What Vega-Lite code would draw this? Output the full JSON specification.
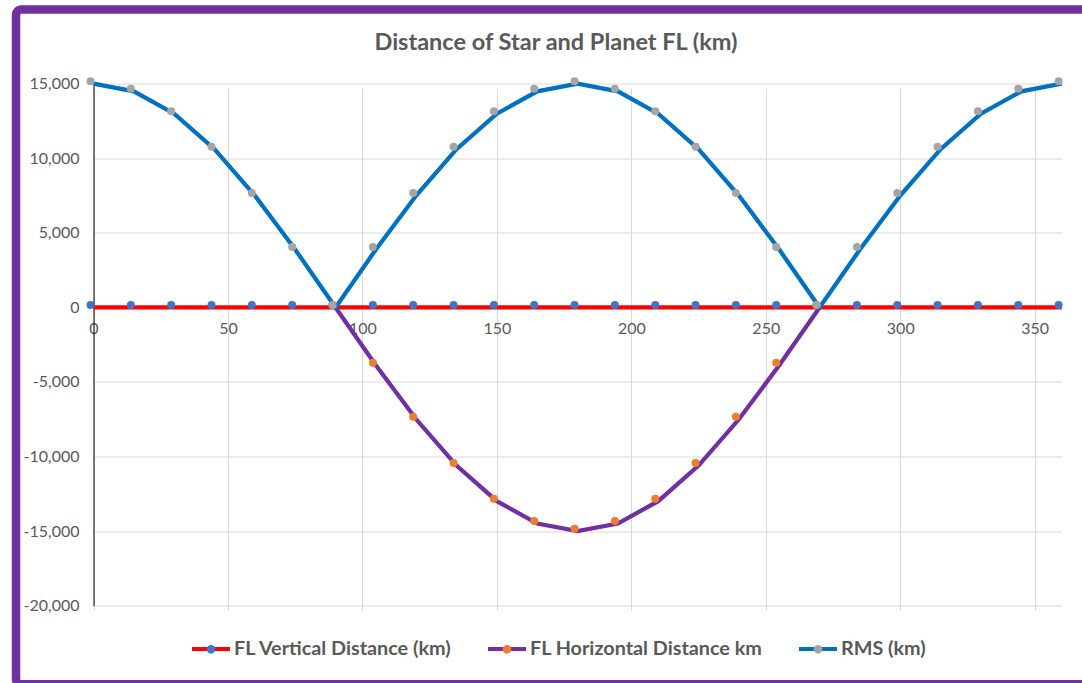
{
  "$schema": "https://vega.github.io/schema/vega-lite/v6.json",
  "width": 1080,
  "height": 674.75,
  "autosize": {"type": "none"},
  "padding": {"left": 16, "top": 9.5, "right": -14, "bottom": -1.25},
  "background": "white",
  "title": {
    "text": "Distance of Star and Planet FL (km)",
    "anchor": "middle",
    "frame": "group",
    "offset": -44.5,
    "font": "Lato",
    "fontSize": 23.5,
    "fontWeight": "bold",
    "color": "#595959"
  },
  "config": {
    "view": {"stroke": "#7030A0", "strokeWidth": 8.5, "fill": "white", "cornerRadius": 5},
    "axis": {
      "labelFont": "Lato",
      "labelFontSize": 16,
      "labelColor": "#595959",
      "ticks": false,
      "tickSize": 0,
      "gridColor": "#D9D9D9",
      "gridWidth": 1,
      "title": null,
      "labelFlush": false,
      "labelOverlap": false
    }
  },
  "data": {
    "values": [
      {"deg": 0, "series": "FL Vertical Distance (km)", "value": 0},
      {"deg": 15, "series": "FL Vertical Distance (km)", "value": 0},
      {"deg": 30, "series": "FL Vertical Distance (km)", "value": 0},
      {"deg": 45, "series": "FL Vertical Distance (km)", "value": 0},
      {"deg": 60, "series": "FL Vertical Distance (km)", "value": 0},
      {"deg": 75, "series": "FL Vertical Distance (km)", "value": 0},
      {"deg": 90, "series": "FL Vertical Distance (km)", "value": 0},
      {"deg": 105, "series": "FL Vertical Distance (km)", "value": 0},
      {"deg": 120, "series": "FL Vertical Distance (km)", "value": 0},
      {"deg": 135, "series": "FL Vertical Distance (km)", "value": 0},
      {"deg": 150, "series": "FL Vertical Distance (km)", "value": 0},
      {"deg": 165, "series": "FL Vertical Distance (km)", "value": 0},
      {"deg": 180, "series": "FL Vertical Distance (km)", "value": 0},
      {"deg": 195, "series": "FL Vertical Distance (km)", "value": 0},
      {"deg": 210, "series": "FL Vertical Distance (km)", "value": 0},
      {"deg": 225, "series": "FL Vertical Distance (km)", "value": 0},
      {"deg": 240, "series": "FL Vertical Distance (km)", "value": 0},
      {"deg": 255, "series": "FL Vertical Distance (km)", "value": 0},
      {"deg": 270, "series": "FL Vertical Distance (km)", "value": 0},
      {"deg": 285, "series": "FL Vertical Distance (km)", "value": 0},
      {"deg": 300, "series": "FL Vertical Distance (km)", "value": 0},
      {"deg": 315, "series": "FL Vertical Distance (km)", "value": 0},
      {"deg": 330, "series": "FL Vertical Distance (km)", "value": 0},
      {"deg": 345, "series": "FL Vertical Distance (km)", "value": 0},
      {"deg": 360, "series": "FL Vertical Distance (km)", "value": 0},
      {"deg": 90, "series": "FL Horizontal Distance km", "value": 0},
      {"deg": 105, "series": "FL Horizontal Distance km", "value": -3882},
      {"deg": 120, "series": "FL Horizontal Distance km", "value": -7500},
      {"deg": 135, "series": "FL Horizontal Distance km", "value": -10607},
      {"deg": 150, "series": "FL Horizontal Distance km", "value": -12990},
      {"deg": 165, "series": "FL Horizontal Distance km", "value": -14489},
      {"deg": 180, "series": "FL Horizontal Distance km", "value": -15000},
      {"deg": 195, "series": "FL Horizontal Distance km", "value": -14489},
      {"deg": 210, "series": "FL Horizontal Distance km", "value": -12990},
      {"deg": 225, "series": "FL Horizontal Distance km", "value": -10607},
      {"deg": 240, "series": "FL Horizontal Distance km", "value": -7500},
      {"deg": 255, "series": "FL Horizontal Distance km", "value": -3882},
      {"deg": 270, "series": "FL Horizontal Distance km", "value": 0},
      {"deg": 0, "series": "RMS (km)", "value": 15000},
      {"deg": 15, "series": "RMS (km)", "value": 14489},
      {"deg": 30, "series": "RMS (km)", "value": 12990},
      {"deg": 45, "series": "RMS (km)", "value": 10607},
      {"deg": 60, "series": "RMS (km)", "value": 7500},
      {"deg": 75, "series": "RMS (km)", "value": 3882},
      {"deg": 90, "series": "RMS (km)", "value": 0},
      {"deg": 105, "series": "RMS (km)", "value": 3882},
      {"deg": 120, "series": "RMS (km)", "value": 7500},
      {"deg": 135, "series": "RMS (km)", "value": 10607},
      {"deg": 150, "series": "RMS (km)", "value": 12990},
      {"deg": 165, "series": "RMS (km)", "value": 14489},
      {"deg": 180, "series": "RMS (km)", "value": 15000},
      {"deg": 195, "series": "RMS (km)", "value": 14489},
      {"deg": 210, "series": "RMS (km)", "value": 12990},
      {"deg": 225, "series": "RMS (km)", "value": 10607},
      {"deg": 240, "series": "RMS (km)", "value": 7500},
      {"deg": 255, "series": "RMS (km)", "value": 3882},
      {"deg": 270, "series": "RMS (km)", "value": 0},
      {"deg": 285, "series": "RMS (km)", "value": 3882},
      {"deg": 300, "series": "RMS (km)", "value": 7500},
      {"deg": 315, "series": "RMS (km)", "value": 10607},
      {"deg": 330, "series": "RMS (km)", "value": 12990},
      {"deg": 345, "series": "RMS (km)", "value": 14489},
      {"deg": 360, "series": "RMS (km)", "value": 15000}
    ]
  },
  "encoding": {
    "x": {
      "field": "deg",
      "type": "quantitative",
      "scale": {"domain": [0, 360], "range": [77.5, 1045.6], "nice": false, "zero": false},
      "axis": {
        "values": [0, 50, 100, 150, 200, 250, 300, 350],
        "offset": -376.85,
        "labelPadding": 13,
        "domainColor": "#D9D9D9",
        "grid": true
      }
    },
    "y": {
      "field": "value",
      "type": "quantitative",
      "scale": {"domain": [-20000, 15000], "range": [596.2, 74.2], "nice": false, "zero": false},
      "axis": {
        "values": [-20000, -15000, -10000, -5000, 0, 5000, 10000, 15000],
        "labelExpr": "replace(format(datum.value, ','), '\u2212', '-')",
        "offset": -77.5,
        "labelPadding": 14.5,
        "domainColor": "black",
        "domainWidth": 1,
        "grid": true
      }
    }
  },
  "layer": [
    {
      "mark": {"type": "line", "strokeWidth": 4.25},
      "encoding": {
        "color": {
          "field": "series",
          "type": "nominal",
          "scale": {
            "domain": ["FL Vertical Distance (km)", "FL Horizontal Distance km", "RMS (km)"],
            "range": ["#FF0000", "#7030A0", "#0070C0"]
          },
          "legend": {
            "orient": "none",
            "legendX": 174,
            "legendY": 618.5,
            "direction": "horizontal",
            "title": null,
            "padding": 0,
            "symbolType": "M-1,0H1",
            "symbolSize": 1444,
            "symbolStrokeWidth": 4,
            "labelFont": "Lato",
            "labelFontSize": 19.8,
            "labelFontWeight": "bold",
            "labelColor": "#595959",
            "labelOffset": 2,
            "labelLimit": 400,
            "columnPadding": 28
          }
        }
      }
    },
    {
      "mark": {"type": "point", "filled": true, "size": 64, "opacity": 1, "xOffset": -3, "yOffset": -2.5},
      "encoding": {
        "fill": {
          "field": "series",
          "type": "nominal",
          "sort": ["FL Vertical Distance (km)", "FL Horizontal Distance km", "RMS (km)"],
          "scale": {"range": ["#4472C4", "#ED7D31", "#A5A5A5"]},
          "legend": {
            "orient": "none",
            "legendX": 174,
            "legendY": 618.5,
            "direction": "horizontal",
            "title": null,
            "padding": 0,
            "symbolType": "M-1,0H1M0.23,0A0.23,0.23,0,1,1,-0.23,0A0.23,0.23,0,1,1,0.23,0Z",
            "symbolSize": 1444,
            "symbolStrokeWidth": 4,
            "symbolStrokeColor": "transparent",
            "labelFont": "Lato",
            "labelFontSize": 19.8,
            "labelFontWeight": "bold",
            "labelColor": "#595959",
            "labelOpacity": 0,
            "labelOffset": 2,
            "labelLimit": 400,
            "columnPadding": 28
          }
        }
      }
    }
  ]
}
